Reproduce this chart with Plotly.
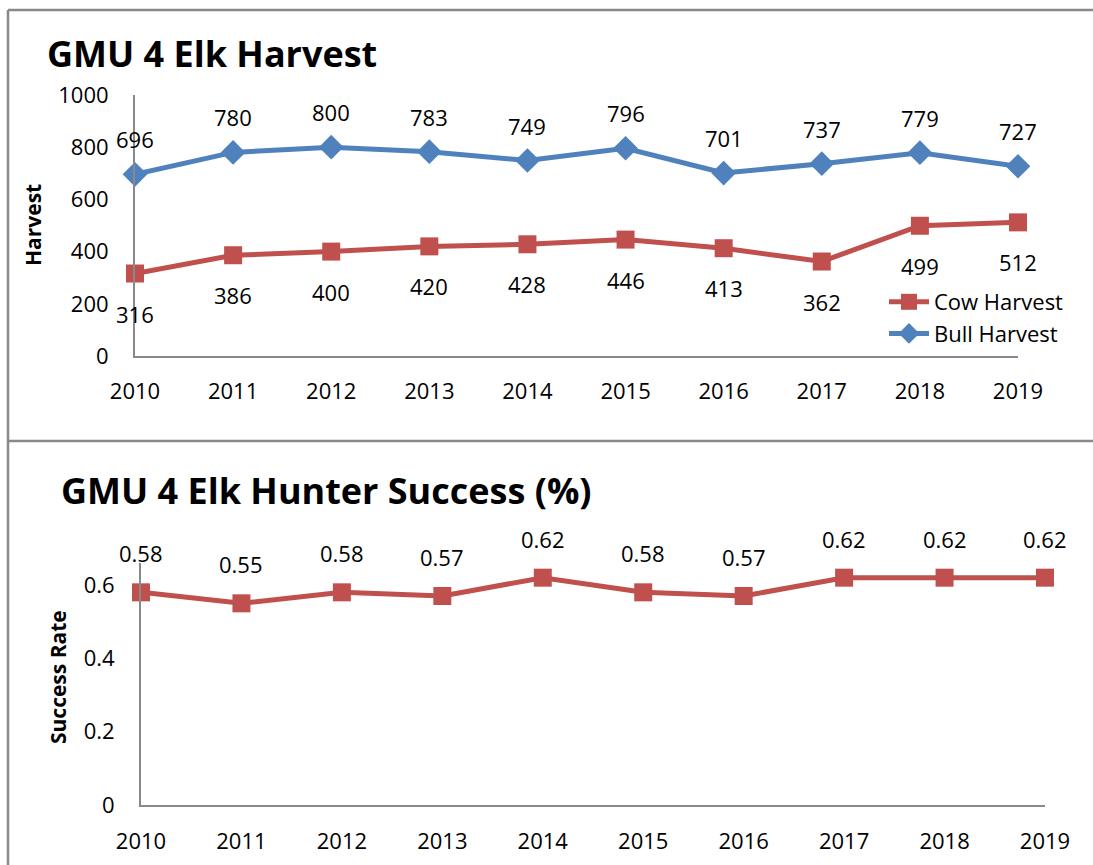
import plotly.graph_objects as go

years = ["2010", "2011", "2012", "2013", "2014", "2015", "2016", "2017", "2018", "2019"]
bull_harvest = [696, 780, 800, 783, 749, 796, 701, 737, 779, 727]
cow_harvest = [316, 386, 400, 420, 428, 446, 413, 362, 499, 512]
success_rate = [0.58, 0.55, 0.58, 0.57, 0.62, 0.58, 0.57, 0.62, 0.62, 0.62]
harvest_ticks = [0, 200, 400, 600, 800, 1000]
success_ticks = [0, 0.2, 0.4, 0.6]

W, H = 1093, 865
BLUE = "#4F81BD"
RED = "#C0504D"
GRAY = "#898989"
FONT = "Open Sans"

def px(x):
    return x / W

def py(y):
    return 1 - y / H

fig = go.Figure()

fig.add_trace(go.Scatter(
    x=years, y=cow_harvest, name="Cow Harvest", mode="lines+markers",
    line=dict(color=RED, width=5), marker=dict(symbol="square", size=18, color=RED),
    cliponaxis=False, xaxis="x", yaxis="y"))
fig.add_trace(go.Scatter(
    x=years, y=bull_harvest, name="Bull Harvest", mode="lines+markers",
    line=dict(color=BLUE, width=5), marker=dict(symbol="diamond", size=19, color=BLUE),
    cliponaxis=False, xaxis="x", yaxis="y"))
fig.add_trace(go.Scatter(
    x=years, y=success_rate, name="Success Rate", mode="lines+markers", showlegend=False,
    line=dict(color=RED, width=5), marker=dict(symbol="square", size=18, color=RED),
    cliponaxis=False, xaxis="x2", yaxis="y2"))

lab_font = dict(size=22, color="black", family=FONT)
annotations = []
for i, v in enumerate(bull_harvest):
    annotations.append(dict(x=i, y=v, xref="x", yref="y", text=str(v), showarrow=False,
                            yshift=35, font=lab_font))
for i, v in enumerate(cow_harvest):
    annotations.append(dict(x=i, y=v, xref="x", yref="y", text=str(v), showarrow=False,
                            yshift=-40, font=lab_font))
for i, v in enumerate(success_rate):
    annotations.append(dict(x=i, y=v, xref="x2", yref="y2", text=f"{v:.2f}", showarrow=False,
                            yshift=39, font=lab_font))

annotations += [
    dict(x=px(45), y=py(54), xref="paper", yref="paper", xanchor="left", yanchor="middle",
         text="<b>GMU 4 Elk Harvest</b>", showarrow=False,
         font=dict(size=36, color="black", family=FONT)),
    dict(x=px(59), y=py(490), xref="paper", yref="paper", xanchor="left", yanchor="middle",
         text="<b>GMU 4 Elk Hunter Success (%)</b>", showarrow=False,
         font=dict(size=36, color="black", family=FONT)),
    dict(x=px(33), y=py(225), xref="paper", yref="paper", xanchor="center", yanchor="middle",
         text="<b>Harvest</b>", textangle=-90, showarrow=False,
         font=dict(size=21, color="black", family=FONT)),
    dict(x=px(58), y=py(677), xref="paper", yref="paper", xanchor="center", yanchor="middle",
         text="<b>Success Rate</b>", textangle=-90, showarrow=False,
         font=dict(size=21, color="black", family=FONT)),
]

shapes = [
    dict(type="line", xref="paper", yref="paper", x0=px(8), x1=1.01, y0=py(10), y1=py(10),
         line=dict(color=GRAY, width=2.5)),
    dict(type="line", xref="paper", yref="paper", x0=px(8), x1=px(8), y0=py(10), y1=-0.01,
         line=dict(color=GRAY, width=2.5)),
    dict(type="line", xref="paper", yref="paper", x0=px(8), x1=1.01, y0=py(441), y1=py(441),
         line=dict(color=GRAY, width=2.5)),
]

axis_font = dict(size=22, color="black", family=FONT)
common = dict(showgrid=False, showline=True, linecolor=GRAY, linewidth=2, ticks="",
              zeroline=False, tickfont=axis_font, automargin=False, fixedrange=True)

fig.update_layout(
    template="none",
    width=W, height=H,
    margin=dict(l=0, r=0, t=0, b=0, pad=0, autoexpand=False),
    paper_bgcolor="white", plot_bgcolor="white",
    font=dict(family=FONT, size=22, color="black"),
    xaxis=dict(domain=[px(135), px(1018)], type="category", range=[0, 9],
               ticklabelstandoff=15, anchor="y", **common),
    yaxis=dict(domain=[py(356), py(95)], range=[0, 1000], tickvals=harvest_ticks,
               ticklabelstandoff=20, anchor="x", **common),
    xaxis2=dict(domain=[px(141), px(1045)], type="category", range=[0, 9],
                ticklabelstandoff=16, anchor="y2", **common),
    yaxis2=dict(domain=[py(805), py(563)], range=[0, 0.66], tickvals=success_ticks,
                ticktext=["0", "0.2", "0.4", "0.6"],
                ticklabelstandoff=20, anchor="x2", **common),
    legend=dict(x=px(884), y=py(281), xanchor="left", yanchor="top",
                bgcolor="rgba(0,0,0,0)", font=dict(size=22, family=FONT, color="black"),
                traceorder="normal", itemwidth=40, tracegroupgap=0),
    annotations=annotations,
    shapes=shapes,
)

fig.write_html("out.html", config={"displayModeBar": False},
               post_script="document.body.style.margin='0';document.body.style.overflow='hidden';")
